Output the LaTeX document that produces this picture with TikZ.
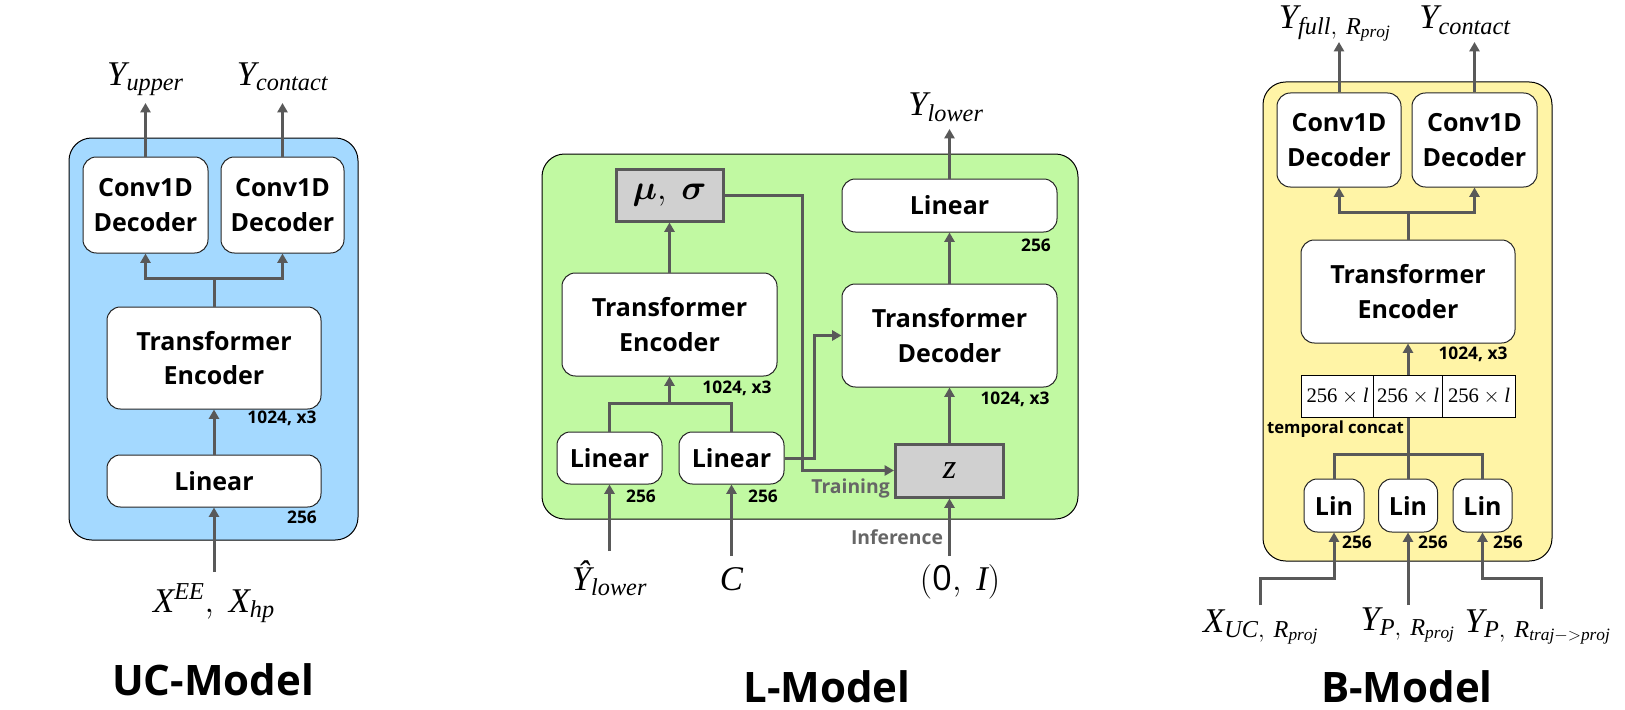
\RequirePackage{fix-cm}
\documentclass[tikz,border=0pt]{standalone}
\usepackage{amsmath}
\usepackage{bm}
\usepackage[no-math]{fontspec}
\setmainfont{Open Sans}
\newfontfamily\tnr{Liberation Serif}
\makeatletter
{\tnr\xdef\tnrfam{\f@family}}
\makeatother
\DeclareSymbolFont{tnrit}{TU}{\tnrfam}{m}{it}
\DeclareSymbolFont{tnrup}{TU}{\tnrfam}{m}{n}
\newcount\lettercnt
\lettercnt=`A
\loop \Umathcode\lettercnt="7 \symtnrit \lettercnt
  \ifnum\lettercnt<`Z \advance\lettercnt 1 \repeat
\lettercnt=`a
\loop \Umathcode\lettercnt="7 \symtnrit \lettercnt
  \ifnum\lettercnt<`z \advance\lettercnt 1 \repeat
\lettercnt=`0
\loop \Umathcode\lettercnt="7 \symtnrup \lettercnt
  \ifnum\lettercnt<`9 \advance\lettercnt 1 \repeat
\usetikzlibrary{arrows.meta,calc}
\definecolor{ucblue}{HTML}{A4D9FF}
\definecolor{lgreen}{HTML}{C1F9A2}
\definecolor{byellow}{HTML}{FFF4A6}
\definecolor{arrgray}{HTML}{595959}
\definecolor{boxgray}{HTML}{D0D0D0}
\definecolor{textgray}{HTML}{666666}
\begin{document}
\begin{tikzpicture}[x=0.75pt,y=-0.75pt,
  wh/.style 2 args={minimum width=#1*0.75pt, minimum height=#2*0.75pt},
  bg/.style={draw=black, line width=0.75pt, rounded corners=17pt, inner sep=0pt},
  blk/.style={draw=black!85, fill=white, line width=0.75pt, rounded corners=10pt, align=center,
    inner sep=0pt, font=\fontsize{18.75}{26}\selectfont\bfseries},
  gbox/.style={draw=arrgray, fill=boxgray, line width=2.25pt, inner sep=0pt, font=\fontsize{26}{30}\selectfont},
  cell/.style={draw=black, fill=white, line width=0.75pt, inner sep=0pt, font=\fontsize{15.5}{18}\selectfont},
  ln/.style={draw=arrgray, line width=2.25pt},
  arr/.style={ln, -{Triangle[length=7pt,width=7.5pt]}},
  dimlab/.style={font=\fontsize{13}{15}\selectfont\bfseries, inner sep=0pt},
  graylab/.style={font=\fontsize{14.5}{16}\selectfont\bfseries, text=textgray, inner sep=0pt},
  mathlab/.style={font=\fontsize{26}{30}\selectfont, inner sep=0pt},
  title/.style={font=\fontsize{31.5}{36}\selectfont\bfseries, inner sep=0pt}]
\useasboundingbox (0,0) rectangle (1625,710);

% ================= UC-Model =================
\node[bg, fill=ucblue, wh={289}{402}] (ucbg) at (213.5,339) {};
\node[blk, wh={125}{96}] (ucdec1) at (145.5,205) {Conv1D\\Decoder};
\node[blk, wh={123}{96}] (ucdec2) at (282.5,205) {Conv1D\\Decoder};
\node[blk, wh={214}{102}] (ucenc) at (214,358) {Transformer\\Encoder};
\node[blk, wh={214}{52}] (uclin) at (214,481) {Linear};
\node[dimlab] (ucencd) at (282,418) {1024, x3};
\node[dimlab] (uclind) at (302,517) {256};
\coordinate (ucout1) at (145.5,103);
\coordinate (ucout2) at (282.5,103);
\node[mathlab, anchor=base] (yupper) at (145.5,85) {$Y_{upper}$};
\node[mathlab, anchor=base] (ycontact) at (282.5,85) {$Y_{contact}$};
\node[mathlab, anchor=base] (ucin) at (214,612) {$X^{EE},\ X_{hp}$};
\coordinate (ucinst) at (214,572);
\draw[arr] (ucinst) -- (uclin.south);
\draw[arr] (uclin.north) -- (ucenc.south);
\draw[ln] (ucenc.north) -- ++(0,-28) coordinate (ucj);
\draw[arr] (ucj) -| (ucdec1.south);
\draw[arr] (ucj) -| (ucdec2.south);
\draw[arr] (ucdec1.north) -- (ucout1);
\draw[arr] (ucdec2.north) -- (ucout2);
\node[title] (uctitle) at (213,680) {UC-Model};

% ================= L-Model =================
\node[bg, fill=lgreen, wh={536}{365}] (lbg) at (810,336.5) {};
\node[gbox, wh={107}{52}] (lmu) at (669.5,195) {$\bm{\mu},\ \bm{\sigma}$};
\node[blk, wh={215}{103}] (lenc) at (669.5,324.5) {Transformer\\Encoder};
\node[blk, wh={105}{52}] (llin1) at (609.5,458) {Linear};
\node[blk, wh={105}{52}] (llin2) at (731.5,458) {Linear};
\node[gbox, wh={108}{53}] (lz) at (949.5,470.5) {$z$};
\node[blk, wh={215}{103}] (ldec) at (949.5,335.5) {Transformer\\Decoder};
\node[blk, wh={215}{53}] (llout) at (949.5,205.5) {Linear};
\node[dimlab] (lencd) at (737,388) {1024, x3};
\node[dimlab] (llin1d) at (641,496) {256};
\node[dimlab] (llin2d) at (763,496) {256};
\node[dimlab] (ldecd) at (1015,399) {1024, x3};
\node[dimlab] (lloutd) at (1036,245) {256};
\node[graylab, anchor=east] (ltrain) at (890,488) {Training};
\node[graylab] (linfer) at (897,537) {Inference};
\coordinate (lout) at (949.5,129);
\node[mathlab, anchor=base] (ylower) at (946,116) {$Y_{lower}$};
\node[mathlab, anchor=base] (lyin) at (609.5,590) {$\mbox{\tnr\itshape Ŷ}_{lower}$};
\node[mathlab, anchor=base] (lcin) at (731.5,590) {$C$};
\node[mathlab, anchor=base] (lzin) at (960,590) {$(\mbox{0},\ I)$};
\coordinate (lyst) at (609.5,551);
\coordinate (lcst) at (731.5,556);
\coordinate (lzst) at (949.5,556);
\coordinate (lj) at (669.5,403);
\coordinate (lmuturn) at (802,470.5);
\draw[arr] (lyst) -- (llin1.south);
\draw[arr] (lcst) -- (llin2.south);
\draw[ln] (llin1.north) |- (lj) -| (llin2.north);
\draw[arr] (lj) -- (lenc.south);
\draw[arr] (lenc.north) -- (lmu.south);
\draw[arr] (lmu.east) -| (lmuturn) -- (lz.west);
\draw[arr] (llin2.east) -- ++(30,0) |- (ldec.west);
\draw[arr] (lzst) -- (lz.south);
\draw[arr] (lz.north) -- (ldec.south);
\draw[arr] (ldec.north) -- (llout.south);
\draw[arr] (llout.north) -- (lout);
\node[title] (ltitle) at (827,687) {L-Model};

% ================= B-Model =================
\node[bg, fill=byellow, wh={289}{479}] (bbg) at (1407.5,321.5) {};
\node[blk, wh={124}{94}] (bdec1) at (1339,140) {Conv1D\\Decoder};
\node[blk, wh={125}{94}] (bdec2) at (1474.5,140) {Conv1D\\Decoder};
\node[blk, wh={214}{103}] (benc) at (1408,291.5) {Transformer\\Encoder};
\node[cell, wh={72}{42}] (bc1) at (1337.5,396) {$256\times l$};
\node[cell, wh={69}{42}] (bc2) at (1408,396) {$256\times l$};
\node[cell, wh={73}{42}] (bc3) at (1479,396) {$256\times l$};
\node[blk, wh={60}{53}] (blin1) at (1334,505.5) {Lin};
\node[blk, wh={59}{53}] (blin2) at (1408,505.5) {Lin};
\node[blk, wh={59}{53}] (blin3) at (1482.5,505.5) {Lin};
\node[dimlab] (bencd) at (1473,354) {1024, x3};
\node[font=\fontsize{12.5}{14}\selectfont\bfseries, inner sep=0pt] (bconcat) at (1335.5,429) {temporal concat};
\node[dimlab] (blin1d) at (1357,542) {256};
\node[dimlab] (blin2d) at (1433,542) {256};
\node[dimlab] (blin3d) at (1508,542) {256};
\coordinate (bout1) at (1339,42);
\coordinate (bout2) at (1474.5,42);
\node[mathlab, anchor=base] (byfull) at (1335,29) {$Y_{full,\ R_{proj}}$};
\node[mathlab, anchor=base] (bycont) at (1465,29) {$Y_{contact}$};
\node[mathlab, anchor=base] (bxuc) at (1261,632) {$X_{UC,\ R_{proj}}$};
\node[mathlab, anchor=base] (byp) at (1408,630) {$Y_{P,\ R_{proj}}$};
\node[mathlab, anchor=base] (bypt) at (1538,632) {$Y_{P,\ R_{traj->proj}}$};
\coordinate (bin1) at (1260,605);
\coordinate (bin2) at (1408,605);
\coordinate (bin3) at (1541,609);
\coordinate (bj) at (1408,454);
\draw[arr] (bin1) -- ++(0,-27) -| (blin1.south);
\draw[arr] (bin2) -- (blin2.south);
\draw[arr] (bin3) -- ++(0,-31) -| (blin3.south);
\draw[ln] (blin1.north) |- (bj) -| (blin3.north);
\draw[ln] (blin2.north) -- (bc2.south);
\draw[arr] (bc2.north) -- (benc.south);
\draw[ln] (benc.north) -- ++(0,-27) coordinate (bj2);
\draw[arr] (bj2) -| (bdec1.south);
\draw[arr] (bj2) -| (bdec2.south);
\draw[arr] (bdec1.north) -- (bout1);
\draw[arr] (bdec2.north) -- (bout2);
\node[title] (btitle) at (1407,687) {B-Model};
\end{tikzpicture}
\end{document}
